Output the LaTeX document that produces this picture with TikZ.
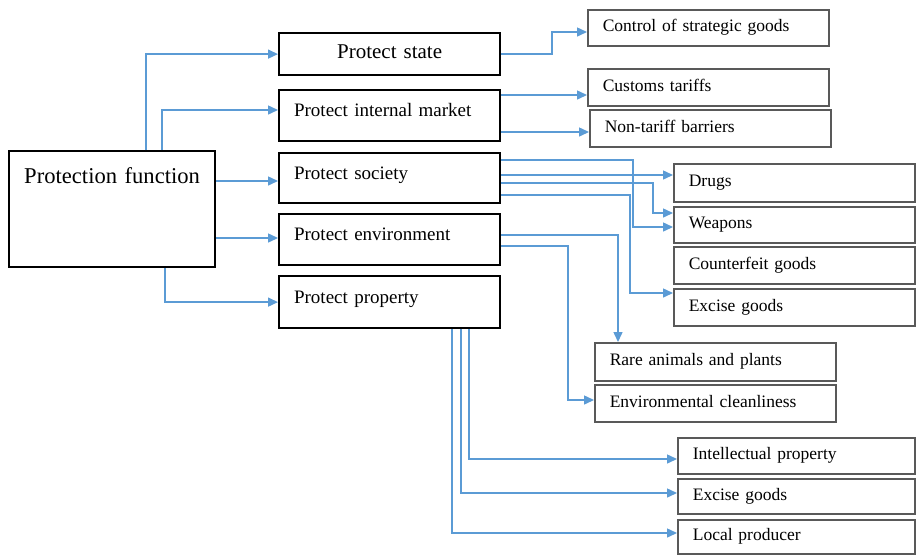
\documentclass[tikz,border=0pt]{standalone}
\usepackage{fontspec}
\setmainfont{Liberation Serif}
\usetikzlibrary{arrows.meta}
\definecolor{linkblue}{RGB}{91,155,213}

\begin{document}
\begin{tikzpicture}[x=1pt,y=-1pt]
    \tikzstyle{mainbox}=[draw=black, line width=2.2pt, anchor=north west, minimum width=206pt, minimum height=116pt, text width=180pt, inner xsep=13pt, align=center, text height=16pt, text depth=68pt, font=\fontsize{22.6}{26}\selectfont]
    \tikzstyle{levelbox}=[draw=black, line width=2.2pt, anchor=north west, text width=191pt, inner xsep=15pt, align=left, text height=13pt, text depth=11pt, font=\fontsize{19}{22}\selectfont]
    \tikzstyle{itembox}=[draw=black!65, line width=1.6pt, anchor=north west, text width=211pt, inner xsep=15pt, align=left, text height=12pt, text depth=4pt, font=\fontsize{17.5}{20}\selectfont]
    \tikzstyle{link}=[draw=linkblue, line width=1.5pt, -{Triangle[length=10pt,width=9pt]}]
    \useasboundingbox (0,0) rectangle (916,555);
    \node [mainbox] (func) at (8,150) {Protection function};
    \node [levelbox, align=center, text height=14pt, text depth=5pt, font=\fontsize{21}{24}\selectfont, minimum height=42pt] (state) at (278,32) {Protect state};
    \node [levelbox, minimum height=51pt] (market) at (278,89) {Protect internal market};
    \node [levelbox, minimum height=50pt] (soc) at (278,152) {Protect society};
    \node [levelbox, minimum height=51pt] (env) at (278,213) {Protect environment};
    \node [levelbox, minimum height=52pt] (prop) at (278,275) {Protect property};
    \node [itembox, minimum height=36pt] (ctrl) at (587,9) {Control of strategic goods};
    \node [itembox, minimum height=37pt] (cust) at (587,68) {Customs tariffs};
    \node [itembox, minimum height=37pt] (nontar) at (589,109) {Non-tariff barriers};
    \node [itembox, minimum height=38pt] (drugs) at (673,163) {Drugs};
    \node [itembox, minimum height=36pt] (weap) at (673,206) {Weapons};
    \node [itembox, minimum height=37pt] (fake) at (673,246) {Counterfeit goods};
    \node [itembox, minimum height=37pt] (excA) at (673,288) {Excise goods};
    \node [itembox, minimum height=38pt] (rare) at (594,342) {Rare animals and plants};
    \node [itembox, minimum height=37pt] (clean) at (594,384) {Environmental cleanliness};
    \node [itembox, text width=207pt, minimum height=36pt] (intel) at (677,437) {Intellectual property};
    \node [itembox, text width=207pt, minimum height=35pt] (excB) at (677,478) {Excise goods};
    \node [itembox, text width=207pt, minimum height=34pt] (local) at (677,519) {Local producer};
    \draw [link] (func.north west) ++(138,0) |- (state.west);
    \draw [link] (func.north west) ++(154,0) |- (market.west |- 0,110);
    \draw [link] (func.east |- 0,181) -- (soc.west |- 0,181);
    \draw [link] (func.east |- 0,238) -- (env.west |- 0,238);
    \draw [link] (func.south west) ++(157,0) |- (prop.west);
    \draw [link] (state.east |- 0,54) -- (552,54) |- (ctrl.west |- 0,32);
    \draw [link] (market.east |- 0,95) -- (cust.west |- 0,95);
    \draw [link] (market.east |- 0,132) -- (nontar.west |- 0,132);
    \draw [link] (soc.east |- 0,160) -- (633,160) |- (weap.west |- 0,227);
    \draw [link] (soc.east |- 0,175) -- (drugs.west |- 0,175);
    \draw [link] (soc.east |- 0,183) -- (653,183) |- (weap.west |- 0,213);
    \draw [link] (soc.east |- 0,195) -- (630,195) |- (excA.west |- 0,293);
    \draw [link] (env.east |- 0,235) -| (618,0 |- rare.north);
    \draw [link] (env.east |- 0,246) -- (568,246) |- (clean.west |- 0,400);
    \draw [link] (469,0 |- prop.south) |- (intel.west |- 0,459);
    \draw [link] (461,0 |- prop.south) |- (excB.west |- 0,493);
    \draw [link] (452,0 |- prop.south) |- (local.west |- 0,533);
\end{tikzpicture}
\end{document}
